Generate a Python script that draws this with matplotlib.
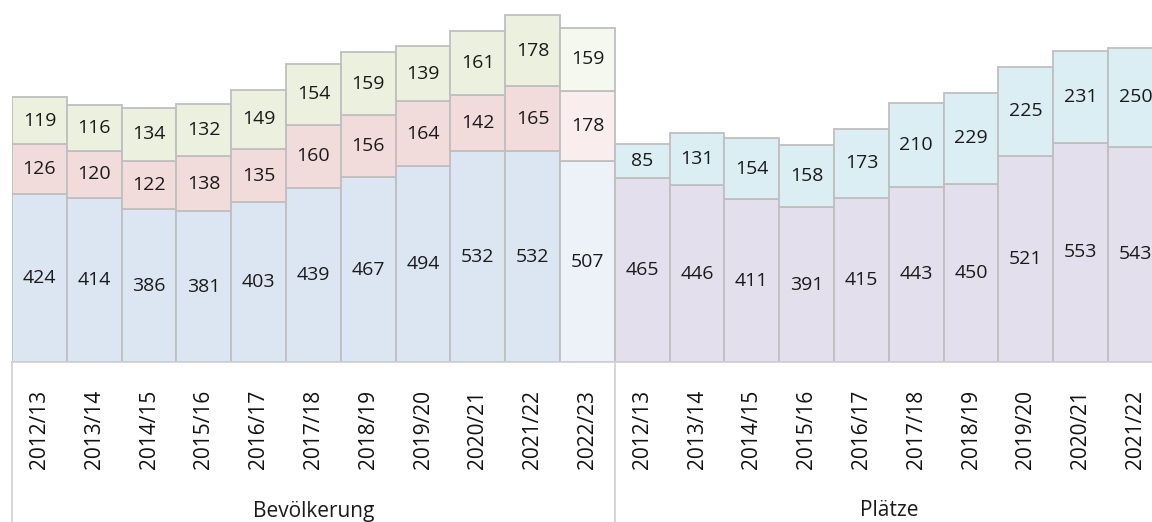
import numpy as np
import matplotlib.pyplot as plt
from matplotlib.transforms import blended_transform_factory

years=["2012/13","2013/14","2014/15","2015/16","2016/17","2017/18",
       "2018/19","2019/20","2020/21","2021/22","2022/23"]
platzYears=years[:10]

bevBottom=[424,414,386,381,403,439,467,494,532,532,507]
bevMiddle=[126,120,122,138,135,160,156,164,142,165,178]
bevTop=[119,116,134,132,149,154,159,139,161,178,159]

platzBottom=[465,446,411,391,415,443,450,521,553,543]
platzTop=[85,131,154,158,173,210,229,225,231,250]

groupNames=["Bevölkerung","Plätze"]

plt.rcParams['font.family']=['Open Sans','DejaVu Sans']

def stackedBars(ax,xPos,layers,colors):
    bottom=np.zeros(len(xPos))
    for values,color in zip(layers,colors):
        values=np.array(values,dtype=float)
        ax.bar(xPos,values,bottom=bottom,width=1.0,color=color,
               edgecolor='#BFBFBF',linewidth=1.3)
        for x,b,v in zip(xPos,bottom,values):
            ax.text(x,b+v/2,str(int(v)),ha='center',va='center',
                    fontsize=14,color='#1a1a1a')
        bottom=bottom+values

def main():
    fig=plt.figure(figsize=(11.52,5.22),dpi=100)
    axLeft=12/1152
    axBottom=160/522
    ax=fig.add_axes([axLeft,axBottom,1-axLeft,1-axBottom])

    nBev=len(years)
    bevX=np.arange(nBev)
    platzX=np.arange(len(platzYears))+nBev

    # last population year is a forecast -> paler colours
    blue=['#DCE6F2']*(nBev-1)+['#EDF2F9']
    pink=['#F2DCDB']*(nBev-1)+['#F9EDED']
    green=['#EBF1DE']*(nBev-1)+['#F5F8EF']
    stackedBars(ax,bevX,[bevBottom,bevMiddle,bevTop],[blue,pink,green])
    stackedBars(ax,platzX,[platzBottom,platzTop],['#E4DFEC','#DAEEF3'])

    pxPerBar=54.8
    ax.set_xlim(-0.5,-0.5+(1152-12)/pxPerBar)
    ax.set_ylim(0,914)

    for s in ['top','right','left']:
        ax.spines[s].set_visible(False)
    ax.spines['bottom'].set_color('#D0D0D0')
    ax.spines['bottom'].set_linewidth(1.2)
    ax.set_yticks([])

    ax.set_xticks(np.concatenate([bevX,platzX]))
    ax.set_xticklabels(years+platzYears,rotation=90,fontsize=15,color='#111111')
    ax.tick_params(axis='x',length=0,pad=20)

    trans=blended_transform_factory(ax.transData,ax.transAxes)
    bottomAx=-160/362
    for xSep in [-0.5,nBev-0.5,nBev+len(platzYears)-0.5]:
        ax.plot([xSep,xSep],[0,bottomAx],transform=trans,color='#D0D0D0',
                linewidth=1.2,clip_on=False)

    groupCenters=[(nBev-1)/2,nBev+(len(platzYears)-1)/2]
    for xc,name in zip(groupCenters,groupNames):
        ax.text(xc,-149/362,name,transform=trans,ha='center',va='center',
                fontsize=15,color='#1a1a1a')

    fig.savefig('out.png',dpi=100)

if __name__=="__main__":
    main()
